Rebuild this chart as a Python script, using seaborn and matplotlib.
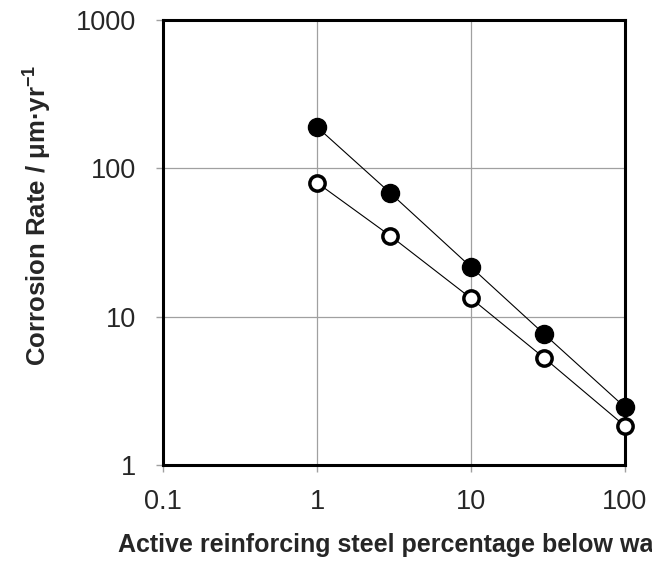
import pandas as pd
import seaborn as sns
import matplotlib.pyplot as plt

# data
pct = [1, 3, 10, 30, 100]
rate_filled = [190, 68, 21.6, 7.6, 2.45]
rate_open = [80, 35, 13.3, 5.25, 1.83]

x_ticks = [0.1, 1, 10, 100]
x_tick_labels = ['0.1', '1', '10', '100']
y_ticks = [1, 10, 100, 1000]
y_tick_labels = ['1', '10', '100', '1000']

df = pd.DataFrame({'pct': pct, 'filled': rate_filled, 'open': rate_open})

sns.set_style('white')
plt.rcParams['font.family'] = ['Liberation Sans', 'DejaVu Sans']
plt.rcParams['mathtext.fontset'] = 'custom'
plt.rcParams['mathtext.rm'] = 'Liberation Sans'
plt.rcParams['mathtext.bf'] = 'Liberation Sans:bold'

fig = plt.figure(figsize=(6.52, 5.67), dpi=100)
ax = fig.add_axes([163 / 652, 1 - 465 / 567, 462 / 652, 445 / 567])

sns.lineplot(data=df, x='pct', y='filled', ax=ax, color='black', linewidth=0.8,
             marker='o', markersize=13, markerfacecolor='black',
             markeredgecolor='black', markeredgewidth=1, clip_on=False, zorder=5)
sns.lineplot(data=df, x='pct', y='open', ax=ax, color='black', linewidth=0.8,
             marker='o', markersize=11, markerfacecolor='white',
             markeredgecolor='black', markeredgewidth=2.5, clip_on=False, zorder=5)

ax.set_xscale('log')
ax.set_yscale('log')
ax.set_xlim(0.1, 100)
ax.set_ylim(1, 1000)
ax.set_xticks(x_ticks)
ax.set_xticklabels(x_tick_labels)
ax.set_yticks(y_ticks)
ax.set_yticklabels(y_tick_labels)
ax.minorticks_off()
ax.grid(True, which='major', color='#a0a0a0', linewidth=0.9)
ax.tick_params(axis='both', labelsize=19.5, length=5, width=1, color='#a0a0a0',
               direction='out', bottom=True, left=True)
ax.tick_params(axis='y', pad=14)
ax.tick_params(axis='x', pad=12)

for s in ax.spines.values():
    s.set_color('black')
    s.set_linewidth(2.2)
    s.set_zorder(1)
ax.set_axisbelow(True)

ax.set_xlabel('')
ax.set_ylabel(r'Corrosion Rate / μm·yr$^{\mathbf{-1}}$', fontsize=18.5, fontweight='bold')
ax.yaxis.set_label_coords(-0.238, 0.562)
fig.text(118 / 652, 1 - 545 / 567, 'Active reinforcing steel percentage below water',
         ha='left', va='center', fontsize=18, fontweight='bold')

plt.savefig('out.png', dpi=100)
